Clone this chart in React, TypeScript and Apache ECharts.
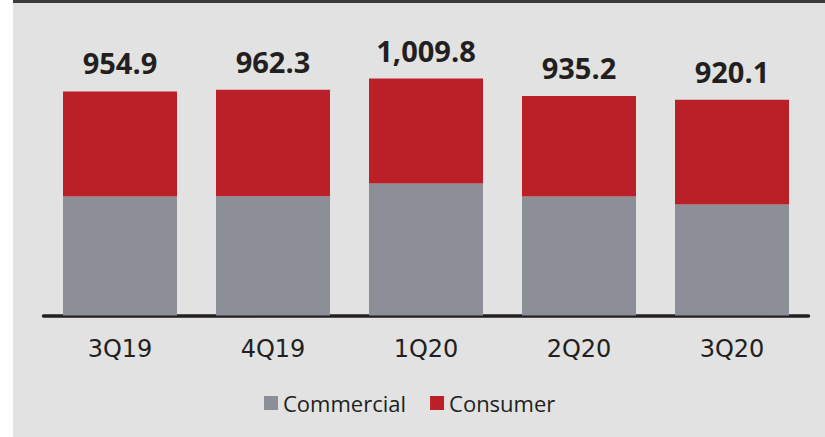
import React, { useEffect, useRef } from "react";
import * as echarts from "echarts";

const categories = ["3Q19", "4Q19", "1Q20", "2Q20", "3Q20"];
const totals = [954.9, 962.3, 1009.8, 935.2, 920.1];
const commercial = [507, 508, 563, 507, 473];
const consumer = [447.9, 454.3, 446.8, 428.2, 447.1];
const totalLabels = ["954.9", "962.3", "1,009.8", "935.2", "920.1"];

export default function App() {
  const ref = useRef<HTMLDivElement>(null);
  useEffect(() => {
    if (!ref.current) return;
    const chart = echarts.init(ref.current, undefined, { renderer: "svg" });
    chart.setOption({
      animation: false,
      backgroundColor: "transparent",
      graphic: [
        {
          type: "rect",
          z: -10,
          shape: { x: 13, y: 0, width: 812, height: 437 },
          style: { fill: "#e1e2e1" },
          silent: true,
        },
        {
          type: "rect",
          z: -9,
          shape: { x: 13, y: 0, width: 812, height: 3 },
          style: { fill: "#3a3a3a" },
          silent: true,
        },
      ],
      grid: { left: 43.5, width: 765, top: 34, height: 281.5 },
      legend: {
        data: ["Commercial", "Consumer"],
        left: 259,
        top: 387,
        icon: "rect",
        itemWidth: 14,
        itemHeight: 14,
        itemGap: 24,
        textStyle: { fontFamily: "Open Sans", fontSize: 22, color: "#231f20" },
      },
      xAxis: {
        type: "category",
        data: categories,
        offset: 2,
        axisLine: { lineStyle: { color: "#231f20", width: 3.5 } },
        axisTick: { show: false },
        axisLabel: {
          margin: 19,
          fontFamily: "DejaVu Sans",
          fontSize: 24,
          color: "#231f20",
        },
      },
      yAxis: { type: "value", min: 0, max: 1200, show: false },
      series: [
        {
          name: "Commercial",
          type: "bar",
          stack: "a",
          barWidth: 114,
          data: commercial,
          itemStyle: { color: "#8c8f97" },
        },
        {
          name: "Consumer",
          type: "bar",
          stack: "a",
          barWidth: 114,
          data: consumer,
          itemStyle: { color: "#bb2029" },
          label: {
            show: true,
            position: "top",
            distance: 14,
            formatter: (p: any) => totalLabels[p.dataIndex] ?? String(totals[p.dataIndex]),
            fontFamily: "Open Sans",
            fontWeight: "bold",
            fontSize: 29,
            color: "#231f20",
          },
        },
      ],
    });
    return () => chart.dispose();
  }, []);
  return (
    <div
      ref={ref}
      style={{ position: "fixed", left: 0, top: 0, width: 825, height: 437, background: "#ffffff" }}
    />
  );
}
